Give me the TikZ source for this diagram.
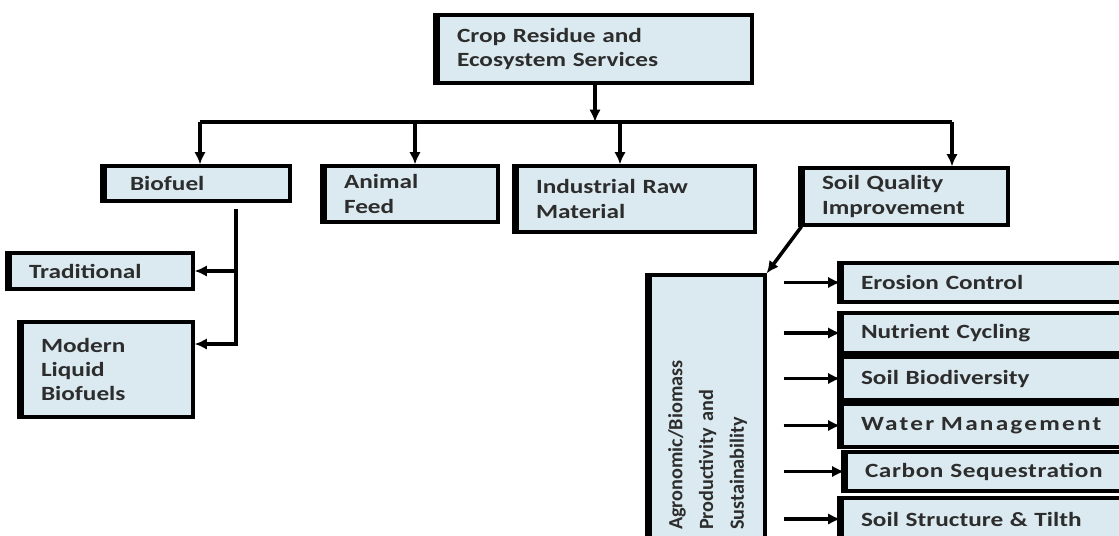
\documentclass[tikz,border=0pt]{standalone}
\usepackage{fontspec}
\setmainfont{Carlito}[FakeStretch=1.25]
\newfontfamily\narrowfont{Carlito}
\usetikzlibrary{arrows.meta}
\definecolor{boxfill}{RGB}{219,234,240}
\definecolor{boxtext}{RGB}{45,45,45}

\tikzset{
  box/.style={draw, line width=1.8pt, fill=boxfill, text=boxtext,
    font=\fontsize{11.5}{13.8}\selectfont\bfseries, align=left,
    inner xsep=0.38cm, inner ysep=0pt,
    append after command={(\tikzlastnode.south west) edge[line width=4pt] (\tikzlastnode.north west)}},
  vbox/.style={draw, line width=1.8pt, fill=boxfill, text=boxtext, rotate=90,
    font=\narrowfont\bfseries\fontsize{11.5}{17.5}\selectfont, align=left,
    inner xsep=0.3cm, inner ysep=0pt,
    append after command={(\tikzlastnode.north west) edge[line width=4pt] (\tikzlastnode.north east)}},
  arr/.style={line width=2pt, -{Latex[length=7pt,width=6.5pt]}},
  link/.style={line width=2pt},
}

\begin{document}
\begin{tikzpicture}[x=0.02cm, y=-0.02cm]
  \useasboundingbox (0,0) rectangle (1119,535);
  \clip (0,0) rectangle (1119,535);

  % top level
  \node[box, text width=5.52cm, minimum height=1.36cm] (crs) at (595,49) {Crop Residue and\\Ecosystem Services};

  % uses
  \node[box, text width=2.94cm, minimum height=0.7cm] (bio) at (197.5,183.5) {\hspace{0.12cm}Biofuel};
  \node[box, text width=2.7cm, minimum height=1.12cm] (feed) at (411.5,194) {Animal\\Feed};
  \node[box, text width=4.0cm, minimum height=1.32cm] (ind) at (636,199) {Industrial Raw\\Material};
  \node[box, text width=3.34cm, minimum height=1.14cm] (soil) at (905.5,196.5) {Soil Quality\\Improvement};

  % biofuel kinds
  \node[box, text width=2.9cm, minimum height=0.72cm] (trad) at (101.5,271) {Traditional};
  \node[box, text width=2.66cm, minimum height=1.9cm] (mod) at (107.5,369.5) {Modern\\Liquid\\Biofuels};

  % soil services
  \node[vbox, text width=4.8cm, minimum width=5.4cm, minimum height=2.3cm] (agro) at (707.5,410) {Agronomic/Biomass\\Productivity and\\Sustainability};
  \node[box, text width=5.2cm, minimum height=0.78cm] (ero) at (991,282.5) {Erosion Control};
  \node[box, text width=5.2cm, minimum height=0.8cm] (nut) at (991,333) {Nutrient Cycling};
  \node[box, text width=5.2cm, minimum height=0.86cm] (biod) at (991,378.5) {Soil Biodiversity};
  \node[box, text width=5.2cm, minimum height=0.86cm] (wat) at (991,425.5) {\addfontfeature{LetterSpace=11}Water Management};
  \node[box, text width=5.12cm, minimum height=0.78cm] (carb) at (993,471.5) {\addfontfeature{LetterSpace=3}Carbon Sequestration};
  \node[box, text width=5.2cm, minimum height=0.84cm] (tilth) at (991,519) {Soil Structure \& Tilth};

  % connectors
  \coordinate (busL) at (200,122);
  \coordinate (busR) at (952,122);
  \draw[link] (busL) -- (busR);
  \draw[arr] (crs.south) -- (crs.south |- busL);
  \foreach \x/\n in {200/bio, 415/feed, 620/ind, 952/soil} {
    \coordinate (drop) at (\x,122);
    \draw[arr] (drop) -- (drop |- \n.north);
  }

  \coordinate (split) at (236,209);
  \draw[arr] (split) |- (trad.east);
  \draw[arr] (split) |- ([yshift=0.51cm]mod.east);

  \draw[arr] (soil.south west) -- (agro.south east);
  \foreach \n in {ero, nut, biod, wat, carb, tilth}
    \draw[arr, shorten <=0.34cm] (agro.south |- \n.west) -- (\n.west);
\end{tikzpicture}
\end{document}
